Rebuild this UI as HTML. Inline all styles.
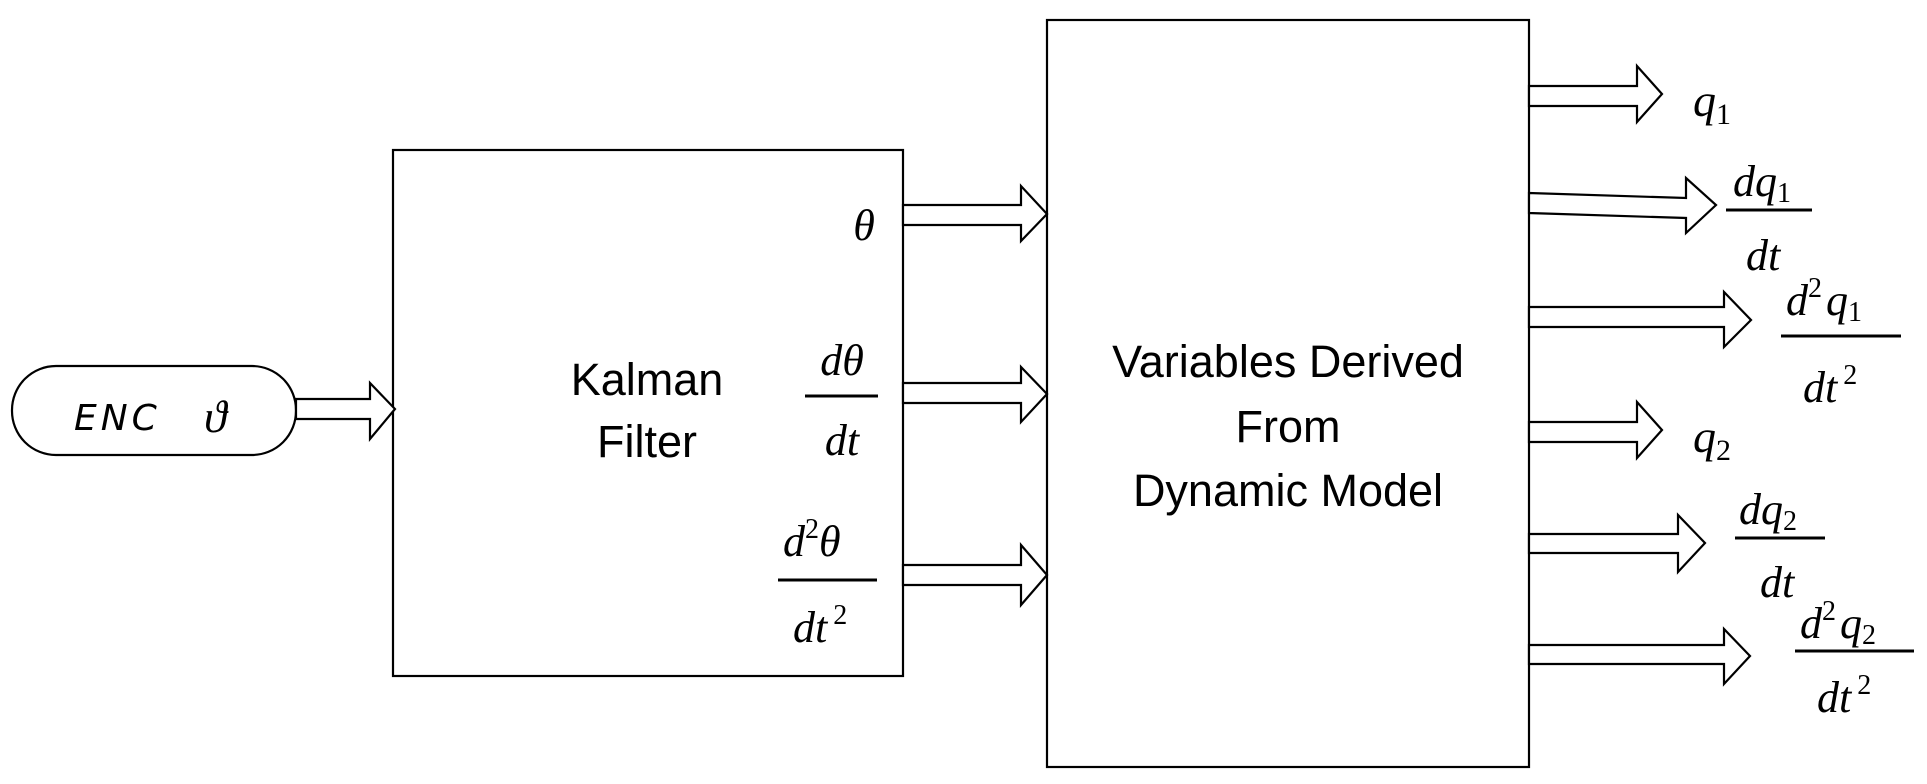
<!DOCTYPE html>
<html><head><meta charset="utf-8"><style>
html,body{margin:0;padding:0;background:#fff;}
svg{display:block;}
.m{font-family:"Liberation Serif",serif;font-style:italic;fill:#000;}
.s{font-family:"Liberation Serif",serif;fill:#000;}
.t{font-family:"Liberation Sans",sans-serif;fill:#000;font-size:45px;}
</style></head><body>
<svg width="1927" height="784" viewBox="0 0 1927 784" xmlns="http://www.w3.org/2000/svg">
<g fill="#fff" stroke="#000" stroke-width="2.2">
<rect x="12" y="366" width="284" height="89" rx="44" ry="44"/>
<rect x="393" y="150" width="510" height="526"/>
<rect x="1047" y="20" width="482" height="747"/>
<!-- arrows: x0,y1,y2,hx,tip,hy1,hy2 -->
<polygon points="296,399 370,399 370,383 395,409 370,439 370,419 296,419"/>
<polygon points="903,205 1021,205 1021,186 1047,214 1021,241 1021,225 903,225"/>
<polygon points="903,383 1021,383 1021,367 1047,394 1021,422 1021,403 903,403"/>
<polygon points="903,565 1021,565 1021,545 1047,575 1021,605 1021,585 903,585"/>
<polygon points="1529,86 1637,86 1637,66 1662,94 1637,122 1637,106 1529,106"/>
<polygon points="1529,193 1686,198 1686,178 1716,205 1686,233 1686,218 1529,213"/>
<polygon points="1529,307 1724,307 1724,292 1751,320 1724,347 1724,327 1529,327"/>
<polygon points="1529,422 1637,422 1637,402 1662,430 1637,458 1637,442 1529,442"/>
<polygon points="1529,534 1678,534 1678,515 1705,543 1678,572 1678,553 1529,553"/>
<polygon points="1529,645 1724,645 1724,629 1750,656 1724,684 1724,664 1529,664"/>
</g>
<g stroke="#000" stroke-width="3">
<line x1="805" y1="396" x2="878" y2="396"/>
<line x1="778" y1="580" x2="877" y2="580"/>
<line x1="1726" y1="210" x2="1812" y2="210"/>
<line x1="1781" y1="336" x2="1901" y2="336"/>
<line x1="1735" y1="538" x2="1825" y2="538"/>
<line x1="1795" y1="651" x2="1914" y2="651"/>
</g>
<text x="74" y="430" font-family="DejaVu Sans,sans-serif" font-style="italic" font-size="36" letter-spacing="4">ENC</text>
<text x="204" y="432" class="m" font-size="46">ϑ</text>
<text x="647" y="395" class="t" text-anchor="middle">Kalman</text>
<text x="647" y="457" class="t" text-anchor="middle">Filter</text>
<text x="1288" y="377" class="t" text-anchor="middle">Variables Derived</text>
<text x="1288" y="442" class="t" text-anchor="middle">From</text>
<text x="1288" y="506" class="t" text-anchor="middle">Dynamic Model</text>
<text x="864" y="240" class="m" font-size="44" text-anchor="middle">θ</text>
<text x="842" y="375" class="m" font-size="44" text-anchor="middle">dθ</text>
<text x="842" y="455" class="m" font-size="44" text-anchor="middle">dt</text>
<text x="783" y="556" class="m" font-size="44">d<tspan class="s" font-style="normal" font-size="28" dy="-18">2</tspan><tspan dy="18">θ</tspan></text>
<text x="793" y="642" class="m" font-size="44">dt<tspan class="s" font-style="normal" font-size="28" dy="-18" dx="6">2</tspan></text>
<text x="1693" y="116" class="m" font-size="46">q<tspan class="s" font-style="normal" font-size="30" dy="8">1</tspan></text>
<text x="1733" y="196" class="m" font-size="44">dq<tspan class="s" font-style="normal" font-size="28" dy="6">1</tspan></text>
<text x="1746" y="270" class="m" font-size="44">dt</text>
<text x="1786" y="315" class="m" font-size="44">d<tspan class="s" font-style="normal" font-size="28" dy="-18">2</tspan><tspan dy="18" dx="4">q</tspan><tspan class="s" font-style="normal" font-size="28" dy="6">1</tspan></text>
<text x="1803" y="402" class="m" font-size="44">dt<tspan class="s" font-style="normal" font-size="28" dy="-18" dx="6">2</tspan></text>
<text x="1693" y="452" class="m" font-size="46">q<tspan class="s" font-style="normal" font-size="30" dy="8">2</tspan></text>
<text x="1739" y="524" class="m" font-size="44">dq<tspan class="s" font-style="normal" font-size="28" dy="6">2</tspan></text>
<text x="1760" y="597" class="m" font-size="44">dt</text>
<text x="1800" y="638" class="m" font-size="44">d<tspan class="s" font-style="normal" font-size="28" dy="-18">2</tspan><tspan dy="18" dx="4">q</tspan><tspan class="s" font-style="normal" font-size="28" dy="6">2</tspan></text>
<text x="1817" y="712" class="m" font-size="44">dt<tspan class="s" font-style="normal" font-size="28" dy="-18" dx="6">2</tspan></text>
</svg>
</body></html>
